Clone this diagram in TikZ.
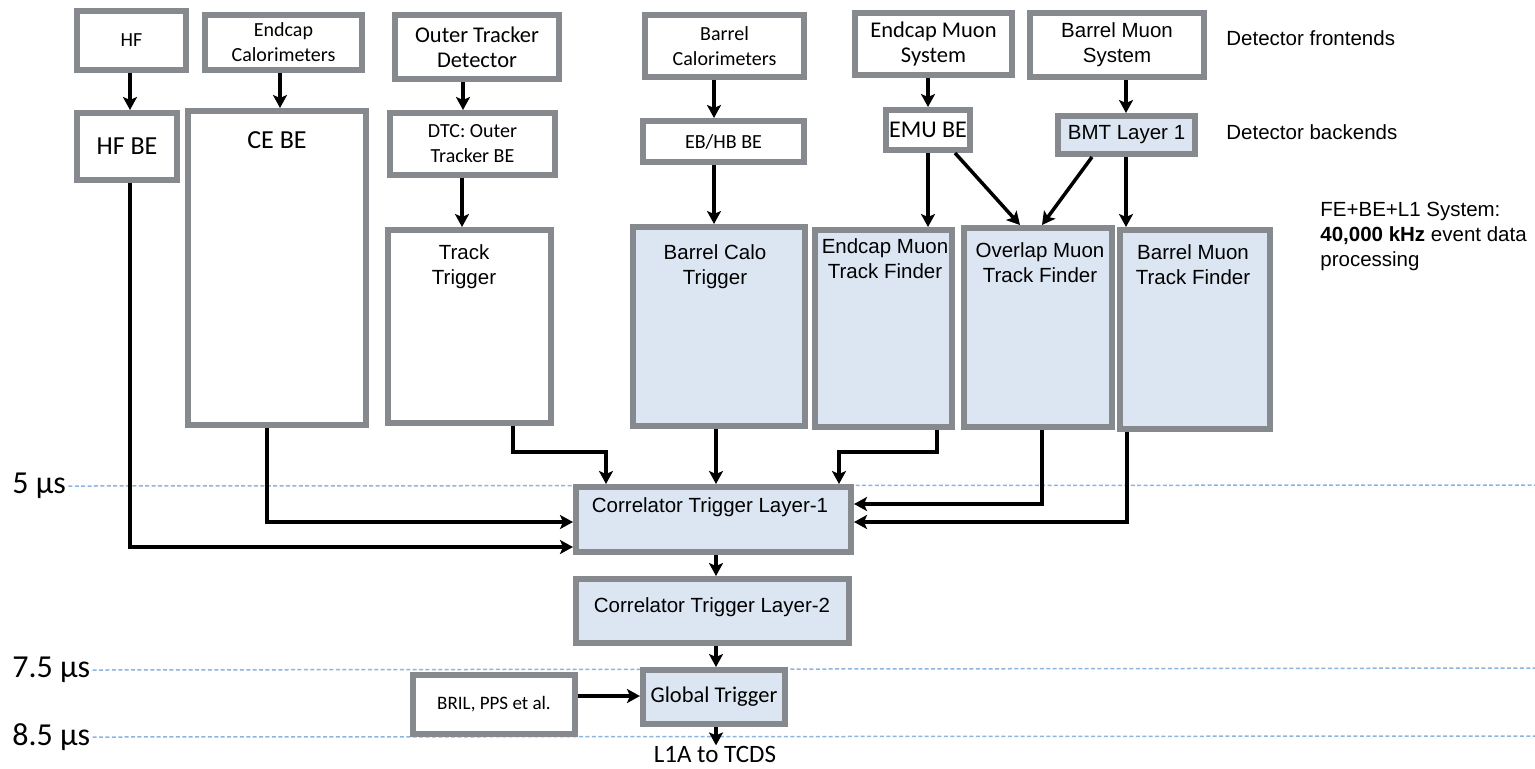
\documentclass[tikz,border=0pt]{standalone}
\usepackage{fontspec}
\setmainfont{Carlito}
\newfontfamily\arialf{Liberation Sans}
\usetikzlibrary{arrows.meta}
\definecolor{boxgray}{RGB}{134,137,141}
\definecolor{boxblue}{RGB}{220,230,242}
\definecolor{dashblue}{RGB}{140,180,225}
\newcommand\fsA{\fontsize{10}{12.5}\selectfont}
\newcommand\fsB{\fontsize{11.25}{12.5}\selectfont}
\newcommand\fsC{\fontsize{13}{15}\selectfont}
\newcommand\fsD{\fontsize{12}{14}\selectfont}
\newcommand\fsE{\fontsize{9.5}{12}\selectfont}
\newcommand\fsF{\fontsize{12.5}{15}\selectfont}
\newcommand\fsG{\fontsize{16}{19}\selectfont}
\newcommand\fsAr{\arialf\fontsize{10.25}{12.5}\selectfont}
\newcommand\dbox[7]{%
  \pgfmathsetmacro\bw{(#4-#2-6)*0.5}%
  \pgfmathsetmacro\bh{(#5-#3-6)*0.5}%
  \node[#6, minimum width=\bw pt, minimum height=\bh pt] (#1) at ({(#2+#4)/2},{(#3+#5)/2}) {#7};%
}
\begin{document}
\begin{tikzpicture}[x=0.5pt,y=-0.5pt,
  wbox/.style={draw=boxgray, line width=3pt, fill=white, inner sep=0pt, align=center, font=\fsA},
  bbox/.style={wbox, fill=boxblue},
  lbl/.style={inner sep=1pt, align=center, font=\fsAr},
  arr/.style={line width=1.75pt, -{Stealth[length=6.5pt,width=7pt,inset=1.5pt]}},
  tline/.style={draw=dashblue, line width=0.75pt, dash pattern=on 2pt off 1.2pt},
  tlab/.style={anchor=west, inner sep=1pt, font=\fsG}]
\useasboundingbox (0,0) rectangle (1535,768);

% time labels and dashed lines
\node[tlab] (t5) at (10,486) {5 µs};
\node[tlab] (t75) at (10,670) {7.5 µs};
\node[tlab] (t85) at (10,737) {8.5 µs};
\draw[tline] (t5.east) -- (1535,485);
\draw[tline] (t75.east) -- (1535,668);
\draw[tline] (t85.east) -- (1535,736);

% frontends
\dbox{hf}{74}{8}{189}{73}{wbox}{HF}
\dbox{ecal}{202}{12}{365}{73}{wbox}{Endcap\\Calorimeters}
\dbox{otd}{392}{12}{562}{82}{wbox,font=\fsB}{Outer Tracker\\Detector}
\dbox{bcal}{642}{12}{807}{80}{wbox}{Barrel\\Calorimeters}
\dbox{emus}{852}{10}{1015}{78}{wbox,font=\fsB}{Endcap Muon\\System}
\dbox{bmus}{1027}{10}{1207}{80}{wbox,font=\fsAr}{Barrel Muon\\System}
% backends
\dbox{hfbe}{74}{110}{180}{183}{wbox,font=\fsC}{HF BE}
\dbox{cebe}{185}{108}{369}{428}{wbox}{}
\dbox{dtc}{387}{110}{558}{178}{wbox}{DTC: Outer\\Tracker BE}
\dbox{ebhb}{640}{118}{807}{165}{wbox}{EB/HB BE}
\dbox{emube}{883}{107}{973}{153}{wbox,font=\fsD}{EMU BE}
\dbox{bmt}{1055}{113}{1198}{157}{bbox,font=\fsAr}{BMT Layer 1}
% trigger processors
\dbox{ttrig}{385}{227}{554}{426}{wbox}{}
\dbox{bct}{630}{224}{808}{429}{bbox}{}
\dbox{emtf}{812}{227}{955}{430}{bbox}{}
\dbox{omtf}{961}{225}{1115}{430}{bbox}{}
\dbox{bmtf}{1117}{227}{1273}{432}{bbox}{}
\dbox{ctl1}{573}{484}{854}{555}{bbox}{}
\dbox{ctl2}{573}{576}{852}{646}{bbox}{}
\dbox{gt}{640}{667}{788}{727}{bbox,font=\fsB}{Global Trigger}
\dbox{bril}{410}{672}{578}{737}{wbox,font=\fsE}{BRIL, PPS et al.}

% labels inside tall boxes
\node[lbl, font=\fsC] (cebet) at (277,140) {CE BE};
\node[lbl] (ttrigt) at (464,267) {Track\\Trigger};
\node[lbl] (bctt) at (715,267) {Barrel Calo\\Trigger};
\node[lbl] (emtft) at (885,259) {Endcap Muon\\Track Finder};
\node[lbl] (omtft) at (1040,263) {Overlap Muon\\Track Finder};
\node[lbl] (bmtft) at (1193,265) {Barrel Muon\\Track Finder};
\node[lbl] (ctl1t) at (710,507) {Correlator Trigger Layer-1};
\node[lbl] (ctl2t) at (712,607) {Correlator Trigger Layer-2};
\node[lbl, font=\fsF, inner sep=0pt] (l1a) at (715,754) {L1A to TCDS};

% side texts
\node[lbl, anchor=west] (dfe) at (1224,38) {Detector frontends};
\node[lbl, anchor=west] (dbe) at (1224,132) {Detector backends};
\node[lbl, anchor=west, align=left] (fesys) at (1318,236) {FE+BE+L1 System:\\\textbf{40,000 kHz} event data\\processing};

% connectors: frontends to backends
\draw[arr] (130,0 |- hf.south) -- (130,0 |- hfbe.north);
\draw[arr] (280,0 |- ecal.south) -- (280,0 |- cebe.north);
\draw[arr] (463,0 |- otd.south) -- (463,0 |- dtc.north);
\draw[arr] (714,0 |- bcal.south) -- (714,0 |- ebhb.north);
\draw[arr] (928,0 |- emus.south) -- (928,0 |- emube.north);
\draw[arr] (1126,0 |- bmus.south) -- (1126,0 |- bmt.north);
% backends to trigger processors
\draw[arr] (462,0 |- dtc.south) -- (462,0 |- ttrig.north);
\draw[arr] (714,0 |- ebhb.south) -- (714,0 |- bct.north);
\draw[arr] (928,0 |- emube.south) -- (928,0 |- emtf.north);
\draw[arr] (955,0 |- emube.south) -- (1020,0 |- omtf.north);
\draw[arr] (1092,0 |- bmt.south) -- (1042,0 |- omtf.north);
\draw[arr] (1126,0 |- bmt.south) -- (1126,0 |- bmtf.north);
% to correlator layer-1
\draw[arr] (130,0 |- hfbe.south) |- (ctl1.west |- 0,547);
\draw[arr] (267,0 |- cebe.south) |- (ctl1.west |- 0,522);
\draw[arr] (513,0 |- ttrig.south) -- (513,452) -| (606,0 |- ctl1.north);
\draw[arr] (716,0 |- bct.south) -- (716,0 |- ctl1.north);
\draw[arr] (937,0 |- emtf.south) -- (937,452) -| (839,0 |- ctl1.north);
\draw[arr] (1042,0 |- omtf.south) |- (ctl1.east |- 0,504);
\draw[arr] (1127,0 |- bmtf.south) |- (ctl1.east |- 0,522);
% downstream
\draw[arr] (716,0 |- ctl1.south) -- (716,0 |- ctl2.north);
\draw[arr] (716,0 |- ctl2.south) -- (716,0 |- gt.north);
\draw[arr] (bril.east |- 0,696) -- (gt.west |- 0,696);
\draw[arr] (716,0 |- gt.south) -- (716,0 |- l1a.north);
\end{tikzpicture}
\end{document}
